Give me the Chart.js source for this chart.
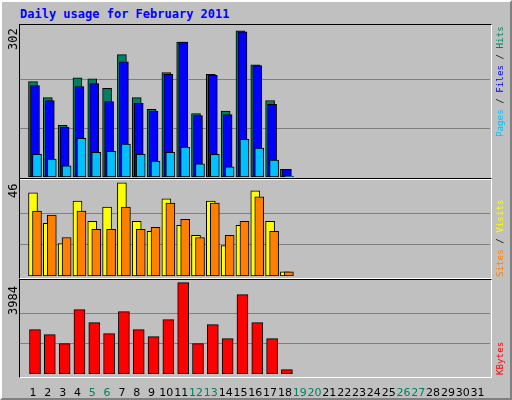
<!DOCTYPE html>
<html>
<head>
<meta charset="utf-8">
<script src="https://cdn.jsdelivr.net/npm/chart.js@4.4.1/dist/chart.umd.min.js"></script>
<style>
  body { margin: 0; background: #fff; }
  #box { position: absolute; left: 0; top: 0; width: 508px; height: 396px; background: #c0c0c0;
         border: 2px solid; border-color: #fff #808080 #808080 #fff; font-family: "DejaVu Sans Mono", monospace; }
  canvas { position: absolute; }
  .frame { position: absolute; border: 1px solid; border-color: #000 #fff #fff #000; pointer-events: none; }
  .rot { position: absolute; transform-origin: 0 0; transform: rotate(-90deg); white-space: nowrap; font-size: 12px; line-height: 14px; }
  .rot.small { font-size: 9.2px; line-height: 12px; }
  #title { position: absolute; left: 18px; top: 5px; color: #0000ff; font-weight: bold; font-size: 12px; }
</style>
</head>
<body>
<div id="box">
  <div id="title">Daily usage for February 2011</div>
  <canvas id="c1" width="470" height="152" style="left:18px;top:23px"></canvas>
  <canvas id="c2" width="470" height="97" style="left:18px;top:177px"></canvas>
  <canvas id="c3" width="470" height="117" style="left:18px;top:277px"></canvas>
  <div class="frame" style="left:17px;top:22px;width:471px;height:154px"></div>
  <div class="frame" style="left:17px;top:176px;width:471px;height:99px"></div>
  <div class="frame" style="left:17px;top:277px;width:471px;height:97px"></div>
  <span class="rot" style="left:4px;top:48px">302</span>
  <span class="rot" style="left:4px;top:196px">46</span>
  <span class="rot" style="left:4px;top:313px">3984</span>
  <span class="rot small" style="left:492px;top:135px"><span style="color:#00c0ff">Pages</span> / <span style="color:#0000ff">Files</span> / <span style="color:#008060">Hits</span></span>
  <span class="rot small" style="left:492px;top:275px"><span style="color:#ff8000">Sites</span> / <span style="color:#ffff00">Visits</span></span>
  <span class="rot small" style="left:492px;top:373px"><span style="color:#ff0000">KBytes</span></span>
</div>
<script>
// Daily stats (days 1-18 have data)
const days = [];
for (let d = 1; d <= 31; d++) days.push(d);
const weekendDays = [5, 6, 12, 13, 19, 20, 26, 27];

const hits   = [197, 164, 107, 205, 203, 183, 253, 164, 140, 216, 279, 131, 212, 136, 302, 232, 158, 16];
const files  = [189, 158, 103, 187, 193, 156, 238, 152, 136, 212, 279, 127, 210, 129, 300, 230, 150, 16];
const pages  = [47, 37, 23, 80, 51, 53, 68, 47, 33, 51, 62, 27, 47, 21, 78, 60, 35, 2];
const sites  = [41, 26, 16, 37, 27, 34, 46, 27, 22, 38, 25, 20, 37, 15, 25, 42, 27, 2];
const visits = [32, 30, 19, 32, 23, 23, 34, 23, 24, 36, 28, 19, 36, 20, 27, 39, 22, 2];
const kbytes = [1934, 1716, 1323, 2806, 2239, 1759, 2719, 1934, 1628, 2370, 3984, 1323, 2152, 1541, 3461, 2239, 1541, 189];

const X_MIN = 0.123, X_MAX = 31.84;

// shift each dataset sideways so the bars overlap like the original
const shiftPlugin = {
  id: "shift",
  beforeDatasetDraw(chart, args) {
    const dx = chart.data.datasets[args.index].dx || 0;
    chart.ctx.save();
    chart.ctx.translate(dx, 0);
  },
  afterDatasetDraw(chart) {
    chart.ctx.restore();
  }
};

function pts(arr) {
  return arr.map((v, i) => ({ x: days[i], y: v }));
}

function ds(arr, color, dx, order, width) {
  return {
    data: pts(arr), backgroundColor: color, borderColor: "#000", borderWidth: 1,
    barThickness: width || 9, grouped: false, dx: dx, order: order, borderSkipped: false
  };
}

function makeChart(id, datasets, top, showDays) {
  new Chart(document.getElementById(id), {
    type: "bar",
    data: { datasets: datasets },
    plugins: [shiftPlugin],
    options: {
      responsive: false, animation: false, devicePixelRatio: 1,
      layout: { padding: 0 },
      plugins: { legend: { display: false }, tooltip: { enabled: false } },
      scales: {
        x: {
          type: "linear", min: X_MIN, max: X_MAX, display: showDays, offset: false,
          grid: { display: false }, border: { display: false },
          afterFit(s) { s.height = showDays ? 22 : 0; s.paddingLeft = 0; s.paddingRight = 0; },
          afterBuildTicks(s) { s.ticks = days.map(d => ({ value: d })); },
          ticks: {
            autoSkip: false, maxRotation: 0, padding: 5,
            font: { family: "DejaVu Sans", size: 11 },
            color: c => weekendDays.includes(c.tick.value) ? "#008060" : "#000"
          }
        },
        y: {
          min: 0, max: top * 1.04,
          afterFit(s) { s.width = 0; },
          afterBuildTicks(s) { s.ticks = [{ value: top / 3 }, { value: top * 2 / 3 }]; },
          ticks: { display: false },
          border: { display: false },
          grid: { color: "#808080", lineWidth: 1, drawTicks: false }
        }
      }
    }
  });
}

makeChart("c1", [
  ds(pages, "#00c0ff", 4, 1),
  ds(files, "#0000ff", 2, 2),
  ds(hits, "#008060", 0, 3)
], 302, false);

makeChart("c2", [
  ds(visits, "#ff8000", 4, 1),
  ds(sites, "#ffff00", 0, 2)
], 46, false);

makeChart("c3", [
  ds(kbytes, "#ff0000", 2, 1, 11)
], 3984, true);
</script>
</body>
</html>
